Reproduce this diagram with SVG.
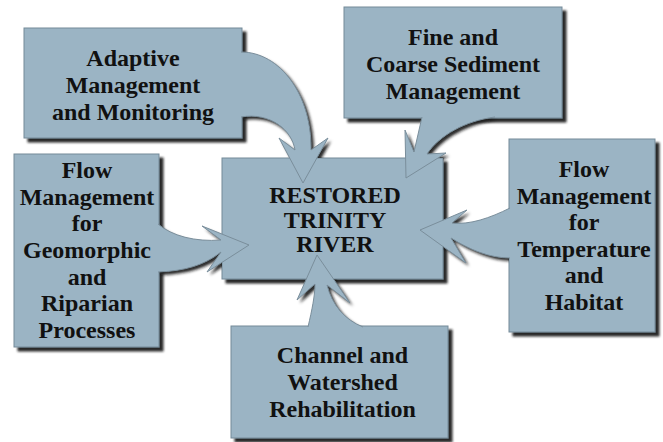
<svg xmlns="http://www.w3.org/2000/svg" xmlns:xlink="http://www.w3.org/1999/xlink" width="663" height="442" viewBox="0 0 663 442" font-family="'Liberation Serif', 'DejaVu Serif', serif">
<style>
.box{fill:#9bb4c4;stroke:#748a98;stroke-width:1;filter:url(#boxsh)}
.lbl{font-family:'Liberation Serif','DejaVu Serif',serif;font-weight:700;font-size:24px;text-anchor:middle;fill:#111}
.arrow{fill:#9bb4c4;stroke:#7a8e9b;stroke-width:1;stroke-linejoin:miter}
.ash{fill:#000;filter:url(#arrsh)}
</style>
<defs>
<filter id="boxsh" x="-10%" y="-10%" width="125%" height="125%">
<feDropShadow dx="4" dy="4" stdDeviation="1.2" flood-color="#151515" flood-opacity="0.92"/>
</filter>
<filter id="arrsh" x="-20%" y="-20%" width="150%" height="150%">
<feGaussianBlur in="SourceAlpha" stdDeviation="1.4"/>
<feOffset dx="3" dy="3" result="b"/>
<feFlood flood-color="#141414" flood-opacity="0.92"/>
<feComposite in2="b" operator="in"/>
</filter>
<path id="a1" d="M241,52 C280,52 312,95 311,150 L328,138 L303,183 L279,138 L295,150 C292,130 270,112 241,117"/>
<path id="a2" d="M158,224 C172,236 195,242 221,240 L202,226 L249,245 L207,272 L221,252 C205,265 185,271 158,272"/>
<path id="a3" d="M422,117 L414,152 L405,130 L406,178 L446,153 L427,154 C440,135 465,121 495,117"/>
<path id="a4" d="M510,208 C490,218 470,225 452,223 L467,210 L420,230 L466,263 L451,238 C470,250 490,258 510,258"/>
<path id="a5" d="M308,327 C312,310 315,295 315,284 L297,300 L317,255 L350,303 L327,285 C332,305 345,320 363,327"/>
<clipPath id="c1"><path clip-rule="evenodd" d="M-10,-10H673V452H-10Z M24,28H242V138H24Z M222,158H443V279H222Z"/></clipPath>
<clipPath id="c2"><path clip-rule="evenodd" d="M-10,-10H673V452H-10Z M14,154H159V347H14Z M222,158H443V279H222Z"/></clipPath>
<clipPath id="c3"><path clip-rule="evenodd" d="M-10,-10H673V452H-10Z M344,7H562V118H344Z M222,158H443V279H222Z"/></clipPath>
<clipPath id="c4"><path clip-rule="evenodd" d="M-10,-10H673V452H-10Z M509,139H655V332H509Z M222,158H443V279H222Z"/></clipPath>
<clipPath id="c5"><path clip-rule="evenodd" d="M-10,-10H673V452H-10Z M231,326H448V438H231Z M222,158H443V279H222Z"/></clipPath>
</defs>
<rect width="663" height="442" fill="#ffffff"/>
<g id="node-center">
<rect class="box" x="222" y="158" width="221" height="121"/>
<text class="lbl" x="335" y="203">RESTORED</text>
<text class="lbl" x="335" y="227.5">TRINITY</text>
<text class="lbl" x="335" y="252">RIVER</text>
</g>
<g id="node-adaptive">
<rect class="box" x="24" y="28" width="218" height="110"/>
<text class="lbl" x="133" y="66">Adaptive</text>
<text class="lbl" x="133" y="93">Management</text>
<text class="lbl" x="133" y="120">and Monitoring</text>
</g>
<g id="node-geomorphic">
<rect class="box" x="14" y="154" width="145" height="193"/>
<text class="lbl" x="87" y="178">Flow</text>
<text class="lbl" x="87" y="204.7">Management</text>
<text class="lbl" x="87" y="231.3">for</text>
<text class="lbl" x="87" y="258">Geomorphic</text>
<text class="lbl" x="87" y="284.7">and</text>
<text class="lbl" x="87" y="311.3">Riparian</text>
<text class="lbl" x="87" y="338">Processes</text>
</g>
<g id="node-sediment">
<rect class="box" x="344" y="7" width="218" height="111"/>
<text class="lbl" x="453" y="45">Fine and</text>
<text class="lbl" x="453" y="72">Coarse Sediment</text>
<text class="lbl" x="453" y="98.5">Management</text>
</g>
<g id="node-temperature">
<rect class="box" x="509" y="139" width="146" height="193"/>
<text class="lbl" x="584" y="177">Flow</text>
<text class="lbl" x="584" y="203.5">Management</text>
<text class="lbl" x="584" y="230">for</text>
<text class="lbl" x="584" y="256.7">Temperature</text>
<text class="lbl" x="584" y="283.3">and</text>
<text class="lbl" x="584" y="310">Habitat</text>
</g>
<g id="node-channel">
<rect class="box" x="231" y="326" width="217" height="112"/>
<text class="lbl" x="342.5" y="363">Channel and</text>
<text class="lbl" x="342.5" y="390">Watershed</text>
<text class="lbl" x="342.5" y="416.5">Rehabilitation</text>
</g>
<g id="connectors">
<use xlink:href="#a1" href="#a1" class="ash" clip-path="url(#c1)"/>
<use xlink:href="#a2" href="#a2" class="ash" clip-path="url(#c2)"/>
<use xlink:href="#a3" href="#a3" class="ash" clip-path="url(#c3)"/>
<use xlink:href="#a4" href="#a4" class="ash" clip-path="url(#c4)"/>
<use xlink:href="#a5" href="#a5" class="ash" clip-path="url(#c5)"/>
<use xlink:href="#a1" href="#a1" class="arrow"/>
<use xlink:href="#a2" href="#a2" class="arrow"/>
<use xlink:href="#a3" href="#a3" class="arrow"/>
<use xlink:href="#a4" href="#a4" class="arrow"/>
<use xlink:href="#a5" href="#a5" class="arrow"/>
</g>
</svg>
